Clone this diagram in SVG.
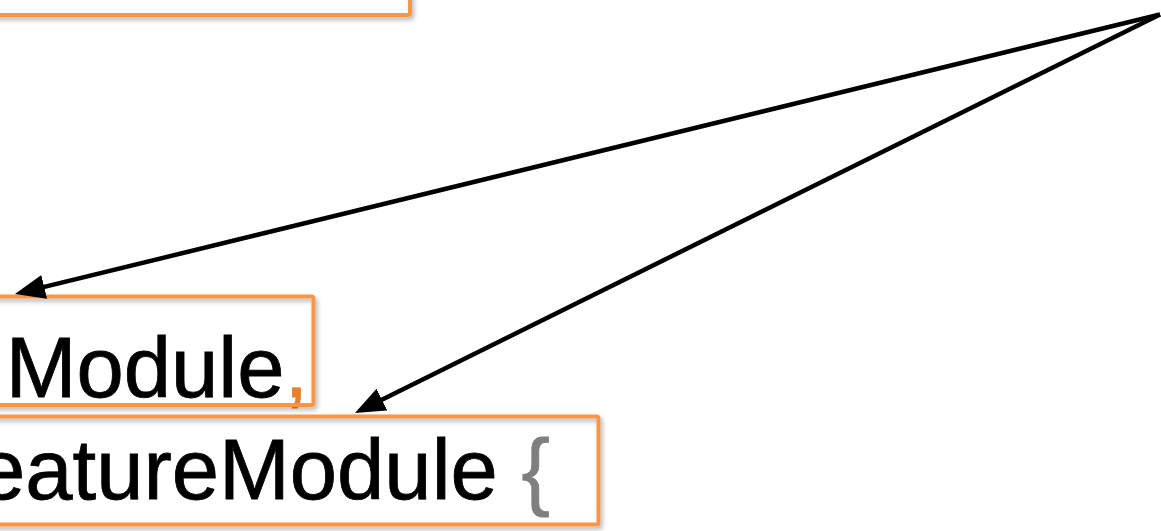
<svg xmlns="http://www.w3.org/2000/svg" width="1161" height="531" viewBox="0 0 1161 531">
  <style>
    .box { fill: none; stroke: #f79646; stroke-width: 4; filter: url(#shadow); }
    .code { font-family: "Liberation Sans", Arial, sans-serif; font-size: 85px; fill: #000000; stroke: #000000; stroke-width: 0.8; }
    .punct { fill: #e8812d; stroke: #e8812d; }
    .brace { fill: #7f7f7f; stroke: #7f7f7f; }
    .conn { fill: none; stroke: #000000; stroke-width: 4.5; marker-end: url(#arrow); }
  </style>
  <defs>
    <filter id="shadow" x="-20%" y="-20%" width="140%" height="140%">
      <feGaussianBlur in="SourceAlpha" stdDeviation="2"/>
      <feOffset dx="2" dy="3" result="b"/>
      <feFlood flood-color="#000000" flood-opacity="0.3"/>
      <feComposite in2="b" operator="in" result="s"/>
      <feMerge>
        <feMergeNode in="s"/>
        <feMergeNode in="SourceGraphic"/>
      </feMerge>
    </filter>
    <marker id="arrow" viewBox="0 0 6.7 5.4" markerWidth="6.7" markerHeight="5.4" refX="4.9" refY="2.7" orient="auto" markerUnits="strokeWidth">
      <path d="M0,0 L6.7,2.7 L0,5.4 z" fill="#000000"/>
    </marker>
  </defs>
  <rect width="1161" height="531" fill="#ffffff"/>
  <g id="text-line-1">
    <text class="code" x="5.7" y="397">Module<tspan class="punct">,</tspan></text>
  </g>
  <g id="text-line-2">
    <text class="code" x="-22" y="499">eatureModule <tspan class="brace">{</tspan></text>
  </g>
  <g id="box-top">
    <rect class="box" x="-10" y="-100" width="420" height="115" rx="2"/>
  </g>
  <g id="box-module">
    <rect class="box" x="-10" y="296.5" width="323.5" height="108.5" rx="2"/>
  </g>
  <g id="box-feature-module">
    <rect class="box" x="-10" y="416.5" width="608.5" height="108" rx="2"/>
  </g>
  <g id="connectors">
    <path class="conn" d="M1160,14.5 L22.8,292.1"/>
    <path class="conn" d="M1160,14.5 L362.2,409.4"/>
  </g>
</svg>
